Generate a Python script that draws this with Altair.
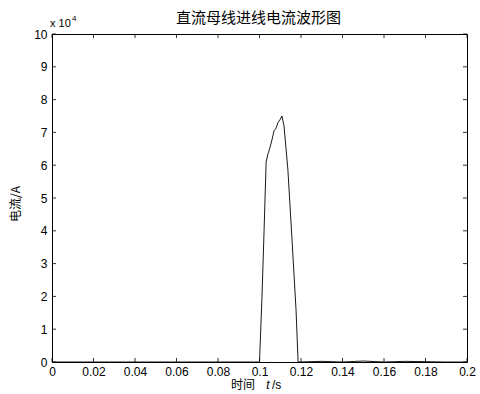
import altair as alt
import pandas as pd

# waveform (time in s, current in A)
t_vals = [0.0, 0.02, 0.04, 0.06, 0.08, 0.0995, 0.1, 0.1012, 0.1022, 0.1032, 0.1041, 0.1051,
          0.106, 0.107, 0.108, 0.1089, 0.1100, 0.1108, 0.1118, 0.1137, 0.1157, 0.1176,
          0.1186, 0.119, 0.13, 0.14, 0.15, 0.16, 0.17, 0.18, 0.19, 0.2]
i_vals = [0, 0, 0, 0, 0, 0, 0, 20000, 40000, 61000, 63500, 65500,
          67700, 70500, 71300, 73000, 74000, 75000, 72000, 58500, 37000, 16000,
          0, 0, 200, 0, 300, 0, 200, 100, 0, 0]

x_ticks = [0, 0.02, 0.04, 0.06, 0.08, 0.1, 0.12, 0.14, 0.16, 0.18, 0.2]
y_ticks = [0, 10000, 20000, 30000, 40000, 50000, 60000, 70000, 80000, 90000, 100000]

W, H = 415, 328

df = pd.DataFrame({"t": t_vals, "i": i_vals})
xt = pd.DataFrame({"v": x_ticks})
yt = pd.DataFrame({"v": y_ticks})

xs = alt.Scale(domain=[0, 0.2], nice=False)
ys = alt.Scale(domain=[0, 100000], nice=False)

FONT = "Liberation Sans"
CJK = "Noto Sans CJK SC"

XAX = alt.Axis(values=x_ticks, format="~g", ticks=False, domain=False,
               grid=False, labelFont=FONT, labelFontSize=12,
               labelColor="black", labelPadding=4, title=None,
               labelFlush=False, labelOverlap=False)
YAX = alt.Axis(values=y_ticks, labelExpr="datum.value/10000",
               ticks=False, domain=False, grid=False,
               labelFont=FONT, labelFontSize=12, labelColor="black",
               labelPadding=5, title=None, labelOverlap=False,
               labelFlush=False)

line = alt.Chart(df).mark_line(color="black", strokeWidth=0.9).encode(
    x=alt.X("t:Q", scale=xs, axis=XAX),
    y=alt.Y("i:Q", scale=ys, axis=YAX),
)

tl = 4
xb = alt.Chart(xt).mark_rule(color="black", strokeWidth=0.8).encode(
    x=alt.X("v:Q", scale=xs, axis=XAX), y=alt.value(H), y2=alt.value(H - tl))
xtop = alt.Chart(xt).mark_rule(color="black", strokeWidth=0.8).encode(
    x=alt.X("v:Q", scale=xs, axis=XAX), y=alt.value(0), y2=alt.value(tl))
yl = alt.Chart(yt).mark_rule(color="black", strokeWidth=0.8).encode(
    y=alt.Y("v:Q", scale=ys, axis=YAX), x=alt.value(0), x2=alt.value(tl))
yr = alt.Chart(yt).mark_rule(color="black", strokeWidth=0.8).encode(
    y=alt.Y("v:Q", scale=ys, axis=YAX), x=alt.value(W), x2=alt.value(W - tl))

def txt(s, x, y, size=12, font=FONT, style="normal", align="center", baseline="middle", angle=0):
    return alt.Chart(pd.DataFrame({"s": [s]})).mark_text(
        font=font, fontSize=size, fontStyle=style, align=align, baseline=baseline, color="black",
        angle=angle
    ).encode(text="s:N", x=alt.value(x), y=alt.value(y))

ann = [
    txt("直流母线进线电流波形图", 206.5, -16, size=15, font=CJK),
    txt("x 10", -2, -10, size=11, align="left"),
    txt("4", 20, -15, size=8, align="left"),
    txt("时间", 203, 351, size=12, font=CJK, align="right"),
    txt("t", 216, 351, size=12, font=FONT, style="italic", align="center"),
    txt("/s", 220, 351, size=12, font=FONT, align="left"),
    txt("电流/A", -36, 170, size=12, font=CJK, angle=270),
]

chart = alt.layer(line, xb, xtop, yl, yr, *ann).properties(
    width=W, height=H,
    padding={"left": 52, "top": 34, "right": 13, "bottom": 32},
    autosize=alt.AutoSizeParams(type="none"),
    background="white",
).configure_view(stroke="black", strokeWidth=1)

chart.save("out.html", embed_options={"renderer": "svg", "actions": False})
